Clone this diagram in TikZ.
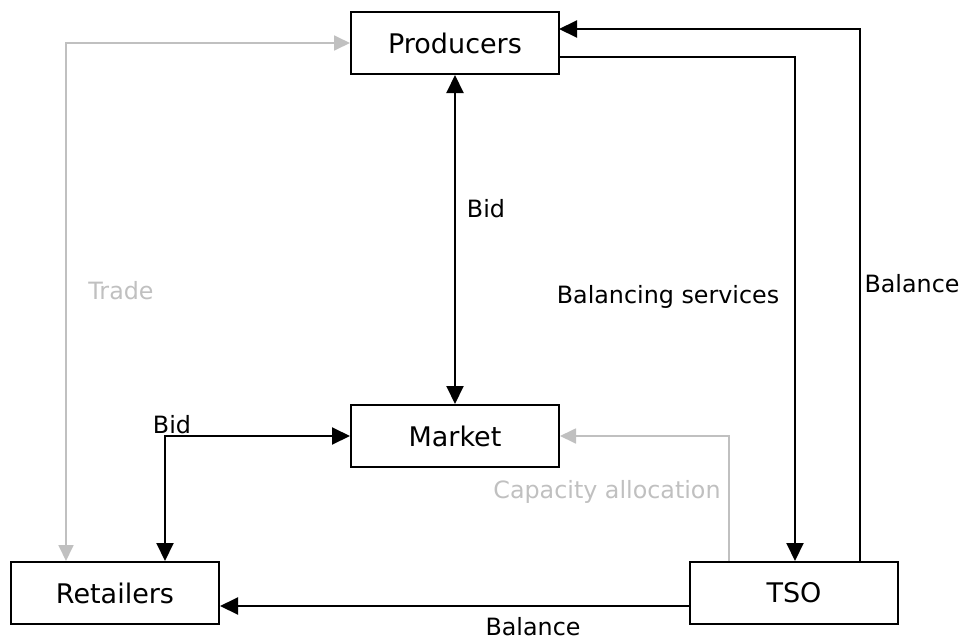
\documentclass[tikz,border=0pt]{standalone}
\usepackage{fontspec}
\setmainfont{DejaVu Sans}
\usetikzlibrary{arrows.meta}
\definecolor{lgray}{HTML}{C0C0C0}
\begin{document}
\begin{tikzpicture}[x=1pt,y=-1pt,
  box/.style={draw=black,line width=2pt,minimum width=208pt,minimum height=62pt,inner sep=0pt,font=\fontsize{27}{32}\selectfont},
  lbl/.style={inner sep=0pt,font=\fontsize{23.8}{28}\selectfont},
  glbl/.style={lbl,text=lgray},
  conn/.style={line width=2pt,-{Triangle[length=18pt,width=17pt]}},
  bconn/.style={line width=2pt,{Triangle[length=18pt,width=17pt]}-{Triangle[length=18pt,width=17pt]}},
  gconn/.style={draw=lgray,line width=1.8pt,-{Triangle[length=16pt,width=15pt]}},
  gbconn/.style={draw=lgray,line width=1.8pt,{Triangle[length=16pt,width=15pt]}-{Triangle[length=16pt,width=15pt]}}]
\useasboundingbox (0,0) rectangle (964,640);
\node[box] (prod) at (455,43) {Producers};
\node[box] (mkt) at (455,436) {Market};
\node[box] (ret) at (115,593) {Retailers};
\node[box] (tso) at (794,593) {TSO};
% Trade
\coordinate (tc) at (66,43);
\draw[gbconn] (prod.west) -- (tc) -- (ret.north -| tc);
\node[glbl] (ltrade) at (121,291) {Trade};
% Bid producers-market
\draw[bconn] (prod.south) -- (mkt.north);
\node[lbl] (lbid1) at (486,209) {Bid};
% Bid market-retailers
\coordinate (bc) at (165,436);
\draw[bconn] (mkt.west) -- (bc) -- (ret.north -| bc);
\node[lbl] (lbid2) at (172,425) {Bid};
% Balancing services
\coordinate (bs1) at (559,57);
\coordinate (bs2) at (795,57);
\draw[conn] (bs1) -- (bs2) -- (tso.north -| bs2);
\node[lbl] (lbs) at (668,297) {Balancing services};
% Balance TSO -> producers
\coordinate (b1) at (860,29);
\coordinate (b2) at (559,29);
\draw[conn] (tso.north -| b1) -- (b1) -- (b2);
\node[lbl] (lbal1) at (912,284) {Balance};
% Capacity allocation
\coordinate (ca) at (729,436);
\draw[gconn] (tso.north -| ca) -- (ca) -- (mkt.east);
\node[glbl] (lca) at (607,492) {Capacity allocation};
% Balance TSO -> retailers
\draw[conn] (tso.west |- 0,606) -- (ret.east |- 0,606);
\node[lbl] (lbal2) at (533,627) {Balance};
\end{tikzpicture}
\end{document}
